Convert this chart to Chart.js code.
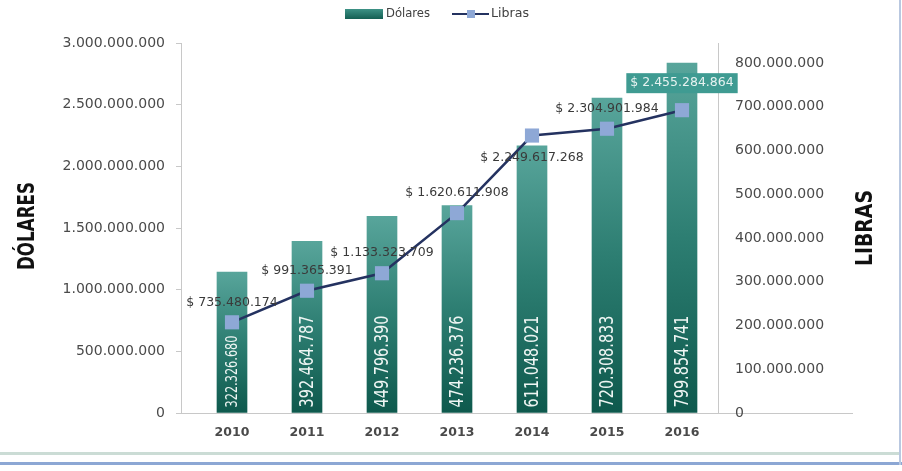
<!DOCTYPE html>
<html>
<head>
<meta charset="utf-8">
<script src="https://cdn.jsdelivr.net/npm/chart.js@4.4.1/dist/chart.umd.min.js"></script>
<style>
  html, body { margin: 0; padding: 0; background: #fff; }
  #wrap { position: relative; width: 902px; height: 471px; }
</style>
</head>
<body>
<div id="wrap"><canvas id="chart" width="902" height="471"></canvas></div>
<script>
// Datos
const years = ["2010", "2011", "2012", "2013", "2014", "2015", "2016"];
const barValues = [322326680, 392464787, 449796390, 474236376, 611048021, 720308833, 799854741];
const lineValues = [735480174, 991365391, 1133323709, 1620611908, 2249617268, 2304901984, 2455284864];
const leftTicks = [0, 500000000, 1000000000, 1500000000, 2000000000, 2500000000, 3000000000];
const rightTicks = [0, 100000000, 200000000, 300000000, 400000000, 500000000, 600000000, 700000000, 800000000];

const sans = "'DejaVu Sans', sans-serif";
const tickFont = { family: sans, size: 14 };

// formato con puntos de miles
function fmt(v) {
  return String(Math.round(v)).replace(/\B(?=(\d{3})+(?!\d))/g, ".");
}

// texto comprimido a un ancho dado (fuente estrecha)
function narrowText(c, txt, x, y, width) {
  const w = c.measureText(txt).width;
  c.save();
  c.translate(x, y);
  c.scale(width / w, 1);
  c.fillText(txt, 0, 0);
  c.restore();
}

// degradado de cada barra
function barGradient(ctx) {
  const chart = ctx.chart;
  const scale = chart.scales && chart.scales.yR;
  if (!scale || ctx.type !== "data") return "#2a7b6e";
  const top = scale.getPixelForValue(ctx.raw.y);
  const bottom = scale.getPixelForValue(0);
  if (!isFinite(top) || !isFinite(bottom) || top === bottom) return "#2a7b6e";
  const g = chart.ctx.createLinearGradient(0, top, 0, bottom);
  g.addColorStop(0, "#58a59b");
  g.addColorStop(0.5, "#2d7e72");
  g.addColorStop(1, "#0e594d");
  return g;
}

// Etiquetas, leyenda, títulos y marco
const extras = {
  id: "extras",
  beforeDraw(chart) {
    const c = chart.ctx;
    const area = chart.chartArea;
    c.save();
    // línea base prolongada a la derecha
    c.strokeStyle = "#c8c8c8";
    c.lineWidth = 1;
    c.beginPath();
    c.moveTo(area.right, area.bottom + 0.5);
    c.lineTo(853, area.bottom + 0.5);
    c.stroke();
    c.restore();
  },
  afterDatasetsDraw(chart) {
    const c = chart.ctx;
    c.save();

    // valores dentro de las barras
    const bars = chart.getDatasetMeta(0).data;
    bars.forEach((el, i) => {
      c.save();
      c.translate(el.x, el.base - 5);
      c.rotate(-Math.PI / 2);
      c.fillStyle = "#eef5f3";
      c.font = (i === 0 ? "15px " : "19px ") + sans;
      c.textAlign = "left";
      c.textBaseline = "middle";
      narrowText(c, fmt(barValues[i]), 0, 1, i === 0 ? 72 : 92);
      c.restore();
    });

    // valores de la línea
    const pts = chart.getDatasetMeta(1).data;
    c.font = "12.5px " + sans;
    c.textAlign = "center";
    c.textBaseline = "middle";
    pts.forEach((el, i) => {
      const txt = "$ " + fmt(lineValues[i]);
      if (i === pts.length - 1) {
        const w = c.measureText(txt).width + 8;
        const y = el.y - 27;
        c.fillStyle = "#3f9b92";
        c.fillRect(el.x - w / 2, y - 10, w, 20);
        c.fillStyle = "#e6f2f0";
        c.fillText(txt, el.x, y);
      } else {
        const y = i === 4 ? el.y + 22 : el.y - 20;
        c.fillStyle = "#3a3a3a";
        c.fillText(txt, el.x, y);
      }
    });
    c.restore();
  },
  afterDraw(chart) {
    const c = chart.ctx;
    c.save();

    // leyenda
    const ly = 14;
    const lg = c.createLinearGradient(0, ly - 5, 0, ly + 5);
    lg.addColorStop(0, "#3d9286");
    lg.addColorStop(1, "#145f53");
    c.fillStyle = lg;
    c.fillRect(345, ly - 5, 38, 10);
    c.fillStyle = "#404040";
    c.font = "12px " + sans;
    c.textAlign = "left";
    c.textBaseline = "middle";
    narrowText(c, chart.data.datasets[0].label, 386, ly, 44);
    c.strokeStyle = "#243260";
    c.lineWidth = 2;
    c.beginPath();
    c.moveTo(452, ly);
    c.lineTo(489, ly);
    c.stroke();
    c.fillStyle = "#8ea8d6";
    c.fillRect(467, ly - 4, 8, 8);
    c.fillStyle = "#404040";
    narrowText(c, chart.data.datasets[1].label, 491, ly, 38);

    // títulos de ejes
    c.fillStyle = "#111";
    c.font = "bold 23px " + sans;
    c.textAlign = "center";
    c.textBaseline = "middle";
    [["DÓLARES", 28, 226, 88], ["LIBRAS", 866, 228, 76]].forEach(([t, x, y, w]) => {
      c.save();
      c.translate(x, y);
      c.rotate(-Math.PI / 2);
      narrowText(c, t, 0, 0, w);
      c.restore();
    });

    // marco inferior y derecho
    c.fillStyle = "#cbdcd5";
    c.fillRect(0, 452, 900, 3);
    c.fillStyle = "#8ca7d4";
    c.fillRect(0, 462, 902, 3);
    c.fillStyle = "#b9c8e0";
    c.fillRect(899, 0, 2, 465);
    c.restore();
  }
};

const ctx = document.getElementById("chart").getContext("2d");
new Chart(ctx, {
  type: "bar",
  data: {
    datasets: [
      {
        type: "bar",
        label: "Dólares",
        data: years.map((y, i) => ({ x: i, y: barValues[i] })),
        yAxisID: "yR",
        backgroundColor: barGradient,
        barThickness: 30,
        order: 2,
      },
      {
        type: "line",
        label: "Libras",
        data: years.map((y, i) => ({ x: i, y: lineValues[i] })),
        yAxisID: "yL",
        borderColor: "#243260",
        borderWidth: 2.5,
        pointStyle: "rect",
        pointRadius: 10,
        pointBackgroundColor: "#8ea8d6",
        pointBorderColor: "#8ea8d6",
        pointBorderWidth: 0,
        tension: 0,
        order: 1,
      },
    ],
  },
  options: {
    responsive: false,
    animation: false,
    layout: { padding: { top: 43, left: 0, right: 0, bottom: 0 } },
    plugins: {
      legend: { display: false },
      tooltip: { enabled: false },
    },
    scales: {
      x: {
        type: "linear",
        offset: false,
        min: -0.68,
        max: 6.48,
        afterBuildTicks: (s) => { s.ticks = years.map((y, i) => ({ value: i })); },
        afterFit: (s) => { s.height = 58; },
        grid: { display: false, drawTicks: false, offset: false },
        border: { display: true, color: "#c8c8c8" },
        ticks: {
          callback: (v) => years[v],
          color: "#4a4a4a",
          font: { family: sans, size: 12.5, weight: "bold" },
          padding: 12,
          maxRotation: 0,
        },
      },
      yL: {
        type: "linear",
        position: "left",
        min: 0,
        max: 3000000000,
        afterBuildTicks: (s) => { s.ticks = leftTicks.map((v) => ({ value: v })); },
        afterFit: (s) => { s.width = 181; },
        grid: { drawOnChartArea: false, drawTicks: true, tickLength: 5, color: "#c8c8c8" },
        border: { display: true, color: "#c8c8c8" },
        ticks: { callback: (v) => fmt(v), color: "#4a4a4a", font: tickFont, padding: 11 },
      },
      yR: {
        type: "linear",
        position: "right",
        min: 0,
        max: 846000000,
        afterBuildTicks: (s) => { s.ticks = rightTicks.map((v) => ({ value: v })); },
        afterFit: (s) => { s.width = 184; },
        grid: { drawOnChartArea: false, drawTicks: false },
        border: { display: true, color: "#c8c8c8" },
        ticks: { callback: (v) => fmt(v), color: "#4a4a4a", font: tickFont, padding: 17 },
      },
    },
  },
  plugins: [extras],
});
</script>
</body>
</html>
